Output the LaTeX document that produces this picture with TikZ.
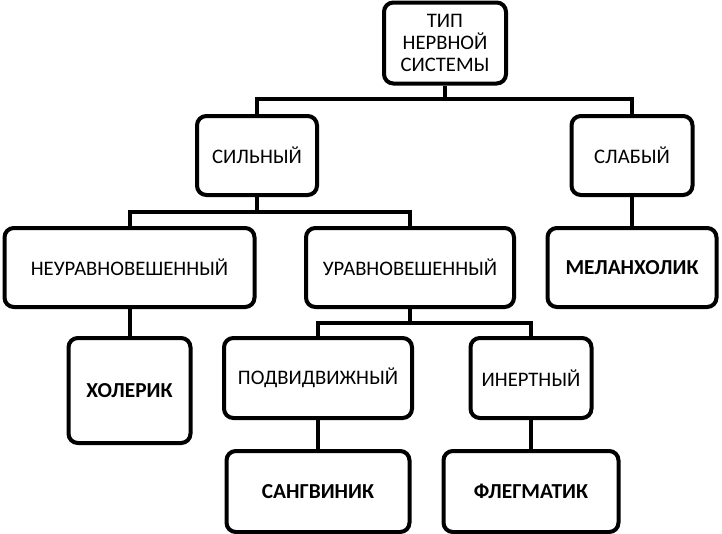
\documentclass[tikz,border=0pt]{standalone}
\usepackage{fontspec}
\setmainfont{Carlito}
\usetikzlibrary{positioning}
\tikzset{
  typebox/.style 2 args={
    draw=black,
    line width=3pt,
    rounded corners=7pt,
    align=center,
    inner sep=2pt,
    minimum width=#1*0.75pt,
    minimum height=#2*0.75pt,
    font=\fontsize{15.5}{16.5}\selectfont
  },
  kindbox/.style 2 args={
    typebox={#1}{#2},
    font=\fontsize{16}{17}\selectfont\bfseries
  },
  treeline/.style={
    line width=3pt,
    line join=miter
  }
}

\begin{document}
\begin{tikzpicture}[x=0.75pt,y=-0.75pt]
  \useasboundingbox (0,0) rectangle (722,533);
  % levels
  \node[typebox={122}{81}] (type) at (445,43) {ТИП\\НЕРВНОЙ\\СИСТЕМЫ};
  \node[typebox={120}{79}] (strong) at (257,155.5) {СИЛЬНЫЙ};
  \node[typebox={121}{79}] (weak) at (632,155.5) {СЛАБЫЙ};
  \node[typebox={250}{79}] (unbal) at (129.5,267.5) {НЕУРАВНОВЕШЕННЫЙ};
  \node[typebox={208}{79}] (bal) at (410,267.5) {УРАВНОВЕШЕННЫЙ};
  \node[kindbox={169}{79}] (melan) at (632,267.5) {МЕЛАНХОЛИК};
  \node[kindbox={122}{105}] (chol) at (129.5,390.5) {ХОЛЕРИК};
  \node[typebox={188}{80}] (mobile) at (318,378) {ПОДВИДВИЖНЫЙ};
  \node[typebox={121}{80}] (inert) at (531,378) {ИНЕРТНЫЙ};
  \node[kindbox={183}{81}] (sang) at (318,491.5) {САНГВИНИК};
  \node[kindbox={175}{81}] (phleg) at (531,491.5) {ФЛЕГМАТИК};
  % junctions
  \coordinate (j1) at (type.south |- 0,99);
  \coordinate (j2) at (strong.south |- 0,212);
  \coordinate (j3) at (bal.south |- 0,323);
  % connectors
  \draw[treeline] (type.south) -- (j1);
  \draw[treeline] (strong.north) |- (j1) -| (weak.north);
  \draw[treeline] (strong.south) -- (j2);
  \draw[treeline] (unbal.north) |- (j2) -| (bal.north);
  \draw[treeline] (weak.south) -- (melan.north);
  \draw[treeline] (unbal.south) -- (chol.north);
  \draw[treeline] (bal.south) -- (j3);
  \draw[treeline] (mobile.north) |- (j3) -| (inert.north);
  \draw[treeline] (mobile.south) -- (sang.north);
  \draw[treeline] (inert.south) -- (phleg.north);
\end{tikzpicture}
\end{document}
